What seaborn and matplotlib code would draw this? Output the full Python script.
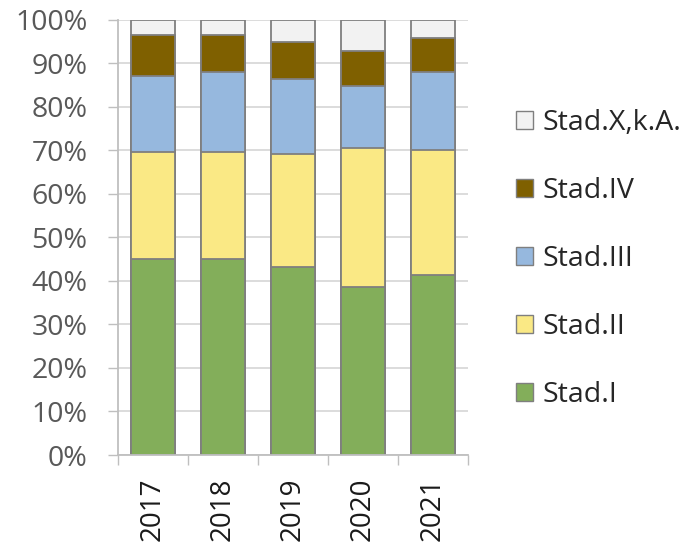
import numpy as np
import pandas as pd
import matplotlib
matplotlib.use("Agg")
import matplotlib.pyplot as plt
import seaborn as sns
from matplotlib.patches import Patch
from matplotlib.ticker import PercentFormatter, FixedLocator

# --- data (share of stage per year, in %) ---
years = ["2017", "2018", "2019", "2020", "2021"]
stages = ["Stad.I", "Stad.II", "Stad.III", "Stad.IV", "Stad.X,k.A."]
stad_1 = [45.1, 45.1, 43.3, 38.6, 41.4]
stad_2 = [24.5, 24.5, 25.9, 32.0, 28.6]
stad_3 = [17.5, 18.3, 17.2, 14.1, 17.9]
stad_4 = [9.4, 8.6, 8.5, 8.2, 7.8]
stad_x = [3.5, 3.5, 5.1, 7.1, 4.3]
colors = ["#83ae5a", "#fae985", "#96b8de", "#7f6000", "#f2f2f2"]

df = pd.DataFrame({"Jahr": years, "Stad.I": stad_1, "Stad.II": stad_2,
                   "Stad.III": stad_3, "Stad.IV": stad_4, "Stad.X,k.A.": stad_x})
cum = df[stages].cumsum(axis=1)

sns.set_style("white")
plt.rcParams["font.family"] = ["Open Sans", "DejaVu Sans"]

fig = plt.figure(figsize=(6.92, 5.44), dpi=100)
ax = fig.add_axes([0.1705, 0.1636, 0.5058, 0.8002])
ax.set_axisbelow(True)

# stacked bars: draw the tallest cumulative first, then overlay the lower ones
for stage, col in reversed(list(zip(stages, colors))):
    sns.barplot(x=df["Jahr"], y=cum[stage], color=col, width=0.64,
                edgecolor="#7f7f7f", linewidth=1.3, saturation=1, ax=ax)

ax.set_ylim(0, 100)
ax.set_xlim(-0.5, 4.5)
ax.set_yticks(np.arange(0, 101, 10))
ax.yaxis.set_major_formatter(PercentFormatter(100, decimals=0))
ax.grid(axis="y", color="#d9d9d9", linewidth=1.3)
ax.set_xlabel("")
ax.set_ylabel("")

# x ticks between categories, labels at centres
ax.xaxis.set_major_locator(FixedLocator(np.arange(-0.5, 5, 1)))
ax.xaxis.set_minor_locator(FixedLocator(np.arange(0, 5, 1)))
ax.set_xticklabels([], minor=False)
ax.set_xticklabels(years, minor=True, rotation=90)
ax.tick_params(axis="x", which="major", length=7, width=1, color="#bfbfbf", bottom=True)
ax.tick_params(axis="x", which="minor", length=0, pad=16, labelsize=20, labelcolor="#1a1a1a")
ax.tick_params(axis="y", length=7, width=1, color="#bfbfbf", left=True, pad=15,
               labelsize=20.5, labelcolor="#595959")

for s in ["top", "right"]:
    ax.spines[s].set_visible(False)
for s in ["left", "bottom"]:
    ax.spines[s].set_color("#bfbfbf")
    ax.spines[s].set_linewidth(1.3)

handles = [Patch(facecolor=c, edgecolor="#7f7f7f", linewidth=1.0, label=s)
           for s, c in zip(stages, colors)][::-1]
fig.legend(handles=handles, loc="center left", bbox_to_anchor=(0.745, 0.524),
           frameon=False, fontsize=20.5, handlelength=0.6, handleheight=0.6,
           handletextpad=0.35, labelspacing=1.4, borderpad=0, borderaxespad=0)

fig.savefig("out.png", dpi=100)
